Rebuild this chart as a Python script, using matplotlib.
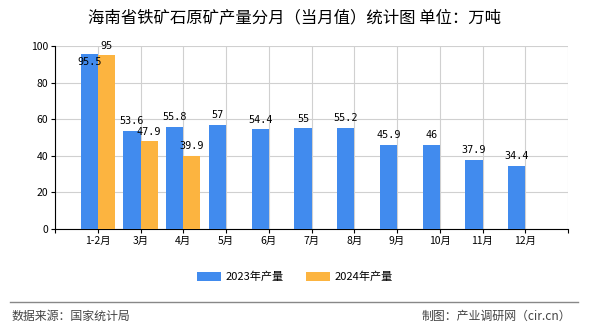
import matplotlib
matplotlib.use("Agg")
import matplotlib.pyplot as plt
import numpy as np

plt.rcParams['font.family'] = ['Noto Sans CJK SC', 'DejaVu Sans']

categories = ["1-2月", "3月", "4月", "5月", "6月", "7月", "8月", "9月", "10月", "11月", "12月"]
values_2023 = [95.5, 53.6, 55.8, 57, 54.4, 55, 55.2, 45.9, 46, 37.9, 34.4]
values_2024 = [95, 47.9, 39.9]
series_names = ["2023年产量", "2024年产量"]
yticks = [0, 20, 40, 60, 80, 100]

blue = "#418BEE"
orange = "#FCB440"

fig = plt.figure(figsize=(5.9, 3.3), dpi=100)
ax = fig.add_axes([55/590, 1-229/330, (568-55)/590, (229-46)/330])

x = np.arange(len(categories))
w = 0.4
b1 = ax.bar(x - w/2, values_2023, width=w, color=blue, label=series_names[0], zorder=3)
x2 = np.arange(len(values_2024))
b2 = ax.bar(x2 + w/2, values_2024, width=w, color=orange, label=series_names[1], zorder=3)

def fmt(v):
    return f"{v:g}"

lab_kw = dict(ha='center', fontsize=7.3, family='DejaVu Sans Mono', zorder=4)
for xi, v in zip(x - w/2, values_2023):
    if v > 94:
        ax.text(xi, v - 1.5, fmt(v), va='top', **lab_kw)
    else:
        ax.text(xi, v + 2.5, fmt(v), va='bottom', **lab_kw)
for xi, v in zip(x2 + w/2, values_2024):
    ax.text(xi, v + 2.5, fmt(v), va='bottom', **lab_kw)

ax.set_xlim(-1, len(categories))
ax.set_ylim(0, 100)
ax.set_yticks(yticks)
ax.set_yticklabels([str(t) for t in yticks], fontsize=7.5)
tick_pos = np.arange(-1, len(categories) + 1)
ax.set_xticks(tick_pos)
ax.set_xticklabels([""] + categories + [""], fontsize=7.5)
ax.grid(True, color="#d0d0d0", linewidth=0.8, zorder=0)
ax.tick_params(axis='both', length=3, width=0.8, colors='black', pad=2)
for s in ['top', 'right']:
    ax.spines[s].set_visible(False)
ax.spines['left'].set_color('black')
ax.spines['bottom'].set_color('black')

fig.text(0.5, 1-18/330, "海南省铁矿石原矿产量分月（当月值）统计图 单位：万吨", ha='center', va='center', fontsize=11.8)

leg = fig.legend(handles=[b1, b2], loc='center', bbox_to_anchor=(0.5, 1-277/330), ncol=2,
                 frameon=False, fontsize=8, handlelength=2.2, handleheight=0.9, columnspacing=2.0, handletextpad=0.4)

fig.add_artist(plt.Line2D([10/590, 578/590], [1-302/330, 1-302/330], color='#888888', linewidth=1))
fig.text(12/590, 1-316/330, "数据来源：国家统计局", ha='left', va='center', fontsize=8.6, color='#444444')
fig.text(571/590, 1-316/330, "制图：产业调研网（cir.cn）", ha='right', va='center', fontsize=8.6, color='#444444')

fig.savefig("out.png", dpi=100)
